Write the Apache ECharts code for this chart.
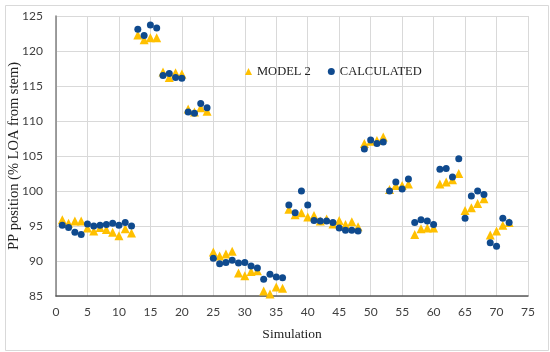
<!DOCTYPE html>
<html>
<head>
<meta charset="utf-8">
<script src="https://cdn.jsdelivr.net/npm/echarts@6/dist/echarts.min.js"></script>
<style>html,body{margin:0;padding:0;background:#fff;}#c{width:550px;height:352px;}</style>
</head>
<body>
<div id="c"></div>
<script>
const simulations = [1,2,3,4,5,6,7,8,9,10,11,12,13,14,15,16,17,18,19,20,21,22,23,24,25,26,27,28,29,30,31,32,33,34,35,36,37,38,39,40,41,42,43,44,45,46,47,48,49,50,51,52,53,54,55,56,57,58,59,60,61,62,63,64,65,66,67,68,69,70,71,72];
const model2 = [95.9,95.4,95.7,95.7,94.7,94.3,94.8,94.5,94.1,93.6,94.6,94.0,
  122.3,121.6,121.9,121.9, 117.0,116.2,116.9,116.7, 111.7,111.3,111.9,111.4,
  91.3,90.7,91.0,91.4,88.3,87.9,88.5,88.6,85.7,85.3,86.3,86.1,
  97.4,96.6,96.9,96.3,96.5,95.7,96.0,95.3,95.8,95.2,95.6,94.9,
  106.8,107.1,107.2,107.7, 100.2,100.8,100.8,101.0, 93.8,94.6,94.7,94.7,
  101.0,101.3,101.6,102.5, 97.2,97.6,98.2,98.9, 93.7,94.3,95.1,95.5];
const calculated = [95.1,94.8,94.1,93.8,95.3,95.0,95.1,95.2,95.4,95.1,95.5,95.0,
  123.1,122.2,123.7,123.3, 116.5,116.8,116.2,116.1, 111.3,111.1,112.5,111.9,
  90.4,89.6,89.8,90.1,89.7,89.8,89.3,89.0,87.4,88.1,87.7,87.6,
  98.0,96.9,100.0,98.0,95.8,95.7,95.7,95.5,94.7,94.4,94.4,94.3,
  106.0,107.3,106.8,107.0, 100.0,101.3,100.3,101.7, 95.5,95.9,95.7,95.2,
  103.1,103.2,102.0,104.6, 96.1,99.3,100.0,99.5, 92.6,92.1,96.1,95.5];
const seriesNames = ['MODEL 2', 'CALCULATED'];
const xTitle = 'Simulation';
const yTitle = 'PP position (% LOA from stem)';

const SERIF = "'Liberation Serif', 'DejaVu Serif', serif";
const SANS = "Lato, 'Open Sans', sans-serif";
const chart = echarts.init(document.getElementById('c'), null, {renderer: 'canvas'});
chart.setOption({
  animation: false,
  backgroundColor: '#fff',
  graphic: [{
    type: 'rect', left: 3, top: 3, shape: {width: 543, height: 345},
    style: {fill: 'none', stroke: '#d9d9d9', lineWidth: 1}, silent: true
  }],
  grid: {left: 56, right: 22, top: 16, bottom: 56, outerBoundsMode: 'none', containLabel: false},
  legend: {
    left: 240, top: 60, itemGap: 17, itemWidth: 7, itemHeight: 7,
    textStyle: {fontFamily: SERIF, fontSize: 12.5, color: '#222'},
    data: [{name: seriesNames[0], icon: 'triangle'}, {name: seriesNames[1], icon: 'circle'}]
  },
  xAxis: {
    type: 'value', min: 0, max: 75, interval: 5,
    name: xTitle, nameLocation: 'middle', nameGap: 31, nameMoveOverlap: false,
    nameTextStyle: {fontFamily: SERIF, fontSize: 13.5, color: '#222'},
    axisLine: {show: true, onZero: false, lineStyle: {color: '#595959', width: 1.5}},
    axisTick: {show: false},
    axisLabel: {fontFamily: SANS, fontSize: 12, color: '#404040', margin: 10},
    splitLine: {show: true, lineStyle: {color: '#d9d9d9', width: 1}}
  },
  yAxis: {
    type: 'value', min: 85, max: 125, interval: 5,
    name: yTitle, nameLocation: 'middle', nameGap: 34, nameRotate: 90, nameMoveOverlap: false,
    nameTextStyle: {fontFamily: SERIF, fontSize: 14.5, color: '#222'},
    axisLine: {show: true, lineStyle: {color: '#808080', width: 1.5}},
    axisTick: {show: false},
    axisLabel: {fontFamily: SANS, fontSize: 12, color: '#404040', margin: 13},
    splitLine: {show: true, lineStyle: {color: '#d9d9d9', width: 1}}
  },
  series: [
    {
      name: seriesNames[0], type: 'scatter', symbol: 'triangle', symbolSize: 9,
      itemStyle: {color: '#FFC000', opacity: 1},
      data: simulations.map((s, i) => [s, model2[i]])
    },
    {
      name: seriesNames[1], type: 'scatter', symbol: 'circle', symbolSize: 7,
      itemStyle: {color: '#0F4A8E', opacity: 1},
      data: simulations.map((s, i) => [s, calculated[i]])
    }
  ]
});
</script>
</body>
</html>
